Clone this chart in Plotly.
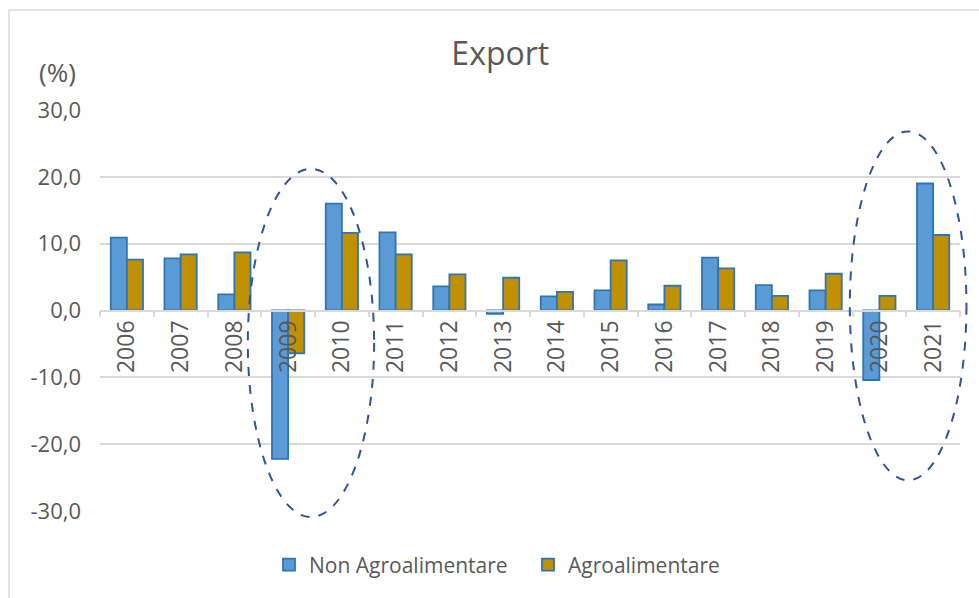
import plotly.graph_objects as go

years = ["2006", "2007", "2008", "2009", "2010", "2011", "2012", "2013",
         "2014", "2015", "2016", "2017", "2018", "2019", "2020", "2021"]
non_agro = [10.9, 7.8, 2.4, -22.2, 16.0, 11.7, 3.6, -0.5,
            2.1, 3.0, 0.9, 7.9, 3.8, 3.0, -10.4, 19.0]
agro = [7.6, 8.4, 8.7, -6.4, 11.6, 8.4, 5.4, 4.9,
        2.8, 7.5, 3.7, 6.3, 2.2, 5.5, 2.2, 11.3]
y_ticks = [-30, -20, -10, 0, 10, 20, 30]
y_tick_text = ["-30,0", "-20,0", "-10,0", "0,0", "10,0", "20,0", "30,0"]

FONT = "Open Sans"
TXT = "#595959"
GRID = "#d9d9d9"

# plot area geometry in pixels
L, R, T, B = 100, 960, 110, 511
W, H = R - L, B - T
n = len(years)


def px(xp):
    return (xp - L) / W


def py(yp):
    return (B - yp) / H


def cat_x(idx):
    return (idx + 0.5) / n


def val_y(v):
    return (v + 30) / 60


fig = go.Figure()
fig.add_trace(go.Bar(x=years, y=non_agro, name="Non Agroalimentare",
                     marker=dict(color="#5B9BD5", line=dict(color="#2E75B6", width=1.8))))
fig.add_trace(go.Bar(x=years, y=agro, name="Agroalimentare",
                     marker=dict(color="#BF9000", line=dict(color="#2E75B6", width=1.8))))

# dashed ellipses highlighting 2009-2010 and 2020-2021 (category index / value units)
for x0, x1, y0, y1 in [(2.25, 4.6, 21.2, -30.9), (13.45, 15.62, 26.8, -25.4)]:
    fig.add_shape(type="circle", xref="paper", yref="paper",
                  x0=cat_x(x0), x1=cat_x(x1), y0=val_y(y0), y1=val_y(y1),
                  line=dict(color="#2F5597", width=2, dash="dash"), layer="above")

# chart border (left and top visible)
fig.add_shape(type="rect", xref="paper", yref="paper",
              x0=px(9), x1=px(990), y0=py(610), y1=py(10),
              line=dict(color=GRID, width=1.5), layer="below")

fig.update_layout(
    width=979, height=598,
    margin=dict(l=L, r=979 - R, t=T, b=598 - B, autoexpand=False),
    paper_bgcolor="white", plot_bgcolor="white",
    barmode="group", bargap=0.4, bargroupgap=0.0,
    font=dict(family=FONT, color=TXT, size=20),
    title=dict(text="Export", x=0.511, xanchor="center", y=1 - 54 / 598, yanchor="middle",
               font=dict(family=FONT, size=32, color=TXT)),
    legend=dict(orientation="h", x=px(269), xanchor="left", y=py(565), yanchor="middle",
                font=dict(family=FONT, size=21, color=TXT),
                entrywidth=214, entrywidthmode="pixels",
                traceorder="normal"),
    showlegend=True,
)
fig.update_xaxes(type="category", anchor="free", position=0.5, automargin=False,
                 showline=True, linecolor=GRID, linewidth=1.5,
                 ticks="outside", tickson="boundaries", ticklen=6, tickcolor=GRID,
                 tickwidth=1.5, tickangle=-90, showgrid=False,
                 tickfont=dict(family=FONT, size=23, color=TXT))
fig.update_yaxes(range=[-30, 30], tickvals=y_ticks, ticktext=y_tick_text, automargin=False,
                 showgrid=True, gridcolor=GRID, gridwidth=1.5, zeroline=False,
                 showline=False, ticks="", ticklabelstandoff=18,
                 tickfont=dict(family=FONT, size=22, color=TXT))
fig.add_annotation(text="(%)", xref="paper", yref="paper", x=px(57),
                   y=py(72), showarrow=False, xanchor="center",
                   yanchor="middle", font=dict(family=FONT, size=26, color=TXT))

fig.write_html("out.html", config={"displayModeBar": False},
               post_script="document.body.style.margin='0px';")
